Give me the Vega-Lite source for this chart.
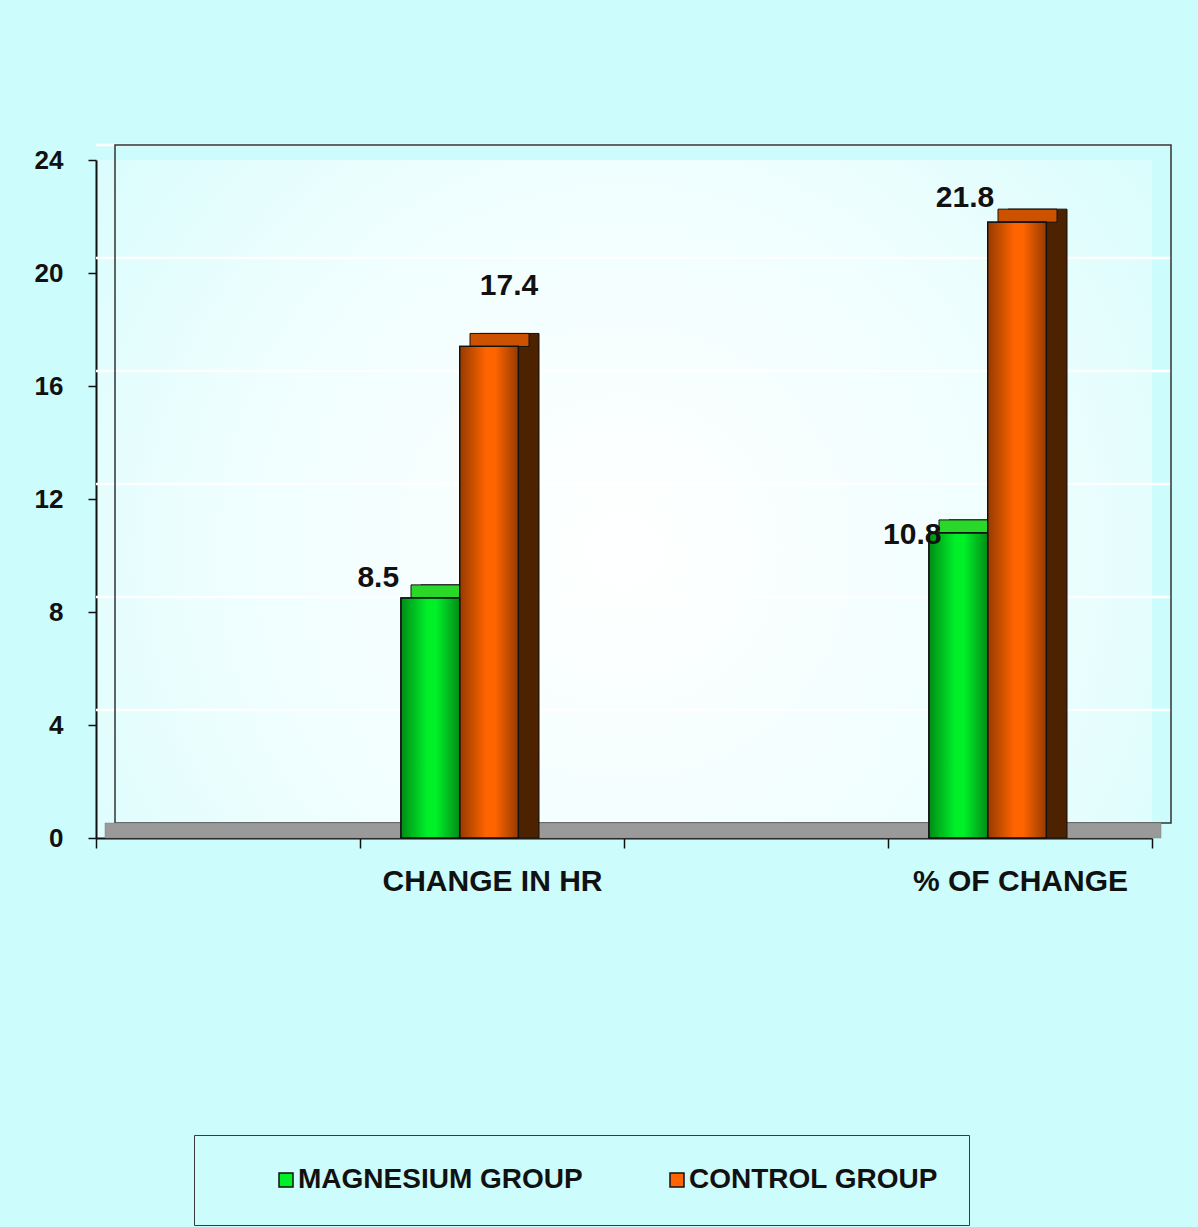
{
  "$schema": "https://vega.github.io/schema/vega-lite/v6.json",
  "width": 1056,
  "height": 678,
  "autosize": {"type": "none"},
  "padding": {"left": 96, "top": 160, "right": 46, "bottom": 389},
  "background": "#ccfcfc",
  "config": {
    "font": "Liberation Sans",
    "view": {
      "stroke": null,
      "fill": {
        "gradient": "radial",
        "x1": 0.5, "y1": 0.55, "r1": 0,
        "x2": 0.5, "y2": 0.55, "r2": 0.75,
        "stops": [
          {"offset": 0, "color": "#ffffff"},
          {"offset": 0.5, "color": "#effefe"},
          {"offset": 1, "color": "#d0fcfc"}
        ]
      }
    }
  },
  "datasets": {
    "bars": [
      {"measure": "CHANGE IN HR", "group": "MAGNESIUM GROUP", "value": 8.5},
      {"measure": "CHANGE IN HR", "group": "CONTROL GROUP", "value": 17.4},
      {"measure": "% OF CHANGE", "group": "MAGNESIUM GROUP", "value": 10.8},
      {"measure": "% OF CHANGE", "group": "CONTROL GROUP", "value": 21.8}
    ],
    "grid": [
      {"level": 4}, {"level": 8}, {"level": 12}, {"level": 16}, {"level": 20}, {"level": 24}
    ],
    "frame": [{}]
  },
  "layer": [
    {
      "description": "white gridlines painted on the back wall",
      "data": {"name": "grid"},
      "mark": {
        "type": "rule", "stroke": "#ffffff", "strokeWidth": 2.5,
        "xOffset": 19, "x2Offset": 19, "yOffset": -15
      },
      "encoding": {
        "y": {"field": "level", "type": "quantitative", "scale": {"domain": [0, 24], "nice": false}}
      }
    },
    {
      "description": "back wall of the 3-D plot box",
      "data": {"name": "frame"},
      "mark": {
        "type": "rect", "fill": "transparent", "stroke": "#333333", "strokeWidth": 1.5,
        "xOffset": 19, "x2Offset": 19, "yOffset": -15, "y2Offset": -15
      },
      "encoding": {
        "x": {"value": 0},
        "x2": {"value": "width"},
        "y": {"datum": 0, "type": "quantitative"},
        "y2": {"datum": 24}
      }
    },
    {
      "description": "grey floor",
      "data": {"name": "frame"},
      "mark": {"type": "rect", "fill": "#9a9a9a", "stroke": "#808080", "strokeWidth": 0.5, "xOffset": 9, "x2Offset": 9},
      "encoding": {
        "x": {"value": 0},
        "x2": {"value": "width"},
        "y": {"datum": 0, "type": "quantitative"},
        "y2": {"datum": 0.53}
      }
    },
    {
      "description": "bar side faces",
      "data": {"name": "bars"},
      "mark": {
        "type": "bar", "stroke": "#111111", "strokeWidth": 1, "width": 59,
        "xOffset": {"expr": "datum.group === 'CONTROL GROUP' ? 17.5 : -41.5"},
        "yOffset": -13, "y2Offset": -13
      },
      "encoding": {
        "x": {"field": "measure", "type": "nominal"},
        "y": {"field": "value", "type": "quantitative", "stack": null},
        "fill": {
          "condition": {"test": "datum.group === 'CONTROL GROUP'", "value": "#4d2200"},
          "value": "#005a10"
        }
      }
    },
    {
      "description": "bar top faces",
      "data": {"name": "bars"},
      "mark": {
        "type": "bar", "stroke": "#111111", "strokeWidth": 1, "width": 59,
        "xOffset": {"expr": "datum.group === 'CONTROL GROUP' ? 7.5 : -51.5"},
        "yOffset": -13
      },
      "encoding": {
        "x": {"field": "measure", "type": "nominal"},
        "y": {"field": "value", "type": "quantitative", "stack": null},
        "y2": {"field": "value"},
        "fill": {
          "condition": {"test": "datum.group === 'CONTROL GROUP'", "value": "#cc5200"},
          "value": "#2ad82a"
        }
      }
    },
    {
      "description": "bar front faces",
      "data": {"name": "bars"},
      "mark": {"type": "bar", "stroke": "#111111", "strokeWidth": 1.2},
      "encoding": {
        "x": {
          "field": "measure",
          "type": "nominal",
          "sort": null,
          "scale": {
            "domain": ["spacer-a", "CHANGE IN HR", "spacer-b", "% OF CHANGE"],
            "paddingInner": 0,
            "paddingOuter": 0
          },
          "axis": {
            "title": null,
            "labelAngle": 0,
            "labelAlign": "center",
            "labelExpr": "(datum.value === 'spacer-a' || datum.value === 'spacer-b') ? '' : datum.label",
            "labelFontSize": 30,
            "labelFontWeight": "bold",
            "labelColor": "#111111",
            "labelPadding": 33,
            "labelLimit": 400,
            "tickBand": "extent",
            "tickSize": 10,
            "tickColor": "#111111",
            "tickWidth": 1.5,
            "domainColor": "#111111",
            "domainWidth": 2,
            "grid": false
          }
        },
        "xOffset": {
          "field": "group",
          "type": "nominal",
          "sort": ["MAGNESIUM GROUP", "CONTROL GROUP"],
          "scale": {
            "domain": ["MAGNESIUM GROUP", "CONTROL GROUP", "depth"],
            "paddingInner": 0,
            "paddingOuter": 0.746,
            "align": 0.466
          }
        },
        "y": {
          "field": "value",
          "type": "quantitative",
          "axis": {
            "title": null,
            "values": [0, 4, 8, 12, 16, 20, 24],
            "labelFontSize": 26,
            "labelFontWeight": "bold",
            "labelColor": "#111111",
            "labelPadding": 25,
            "tickSize": 8,
            "tickColor": "#111111",
            "tickWidth": 1.5,
            "domainColor": "#111111",
            "domainWidth": 2,
            "grid": false
          }
        },
        "color": {
          "field": "group",
          "type": "nominal",
          "sort": ["MAGNESIUM GROUP", "CONTROL GROUP"],
          "scale": {"domain": ["MAGNESIUM GROUP", "CONTROL GROUP"], "range": ["#00f028", "#ff6400"]},
          "legend": {
            "title": null,
            "orient": "none",
            "direction": "horizontal",
            "columns": 2,
            "gridAlign": "all",
            "legendX": 98,
            "legendY": 975,
            "padding": 31,
            "symbolOffset": 47,
            "symbolType": "square",
            "symbolSize": 196,
            "symbolStrokeColor": "#111111",
            "symbolStrokeWidth": 1.5,
            "labelFontSize": 28,
            "labelFontWeight": "bold",
            "labelColor": "#111111",
            "labelOffset": -2,
            "labelLimit": 400,
            "columnPadding": 33,
            "strokeColor": "#3a3a3a",
            "fillColor": "#ccfcfc"
          }
        }
      }
    },
    {
      "description": "shading across the front faces",
      "data": {"name": "bars"},
      "mark": {
        "type": "bar",
        "stroke": "#111111",
        "strokeWidth": 1.2,
        "fill": {
          "gradient": "linear", "x1": 0, "y1": 0, "x2": 1, "y2": 0,
          "stops": [
            {"offset": 0, "color": "rgba(0,0,0,0.42)"},
            {"offset": 0.45, "color": "rgba(0,0,0,0)"},
            {"offset": 0.6, "color": "rgba(0,0,0,0)"},
            {"offset": 1, "color": "rgba(0,0,0,0.42)"}
          ]
        }
      },
      "encoding": {
        "x": {"field": "measure", "type": "nominal"},
        "xOffset": {"field": "group", "type": "nominal", "sort": ["MAGNESIUM GROUP", "CONTROL GROUP"]},
        "y": {"field": "value", "type": "quantitative"}
      }
    },
    {
      "data": {"name": "bars"},
      "transform": [{"filter": "datum.measure === 'CHANGE IN HR' && datum.group === 'MAGNESIUM GROUP'"}],
      "mark": {"type": "text", "fontSize": 30, "fontWeight": "bold", "color": "#111111", "baseline": "middle", "dx": -52, "dy": -20},
      "encoding": {
        "x": {"field": "measure", "type": "nominal"},
        "xOffset": {"field": "group", "type": "nominal", "sort": ["MAGNESIUM GROUP", "CONTROL GROUP"]},
        "y": {"field": "value", "type": "quantitative"},
        "text": {"field": "value", "type": "quantitative", "format": ".1f"}
      }
    },
    {
      "data": {"name": "bars"},
      "transform": [{"filter": "datum.measure === 'CHANGE IN HR' && datum.group === 'CONTROL GROUP'"}],
      "mark": {"type": "text", "fontSize": 30, "fontWeight": "bold", "color": "#111111", "baseline": "middle", "dx": 20, "dy": -60},
      "encoding": {
        "x": {"field": "measure", "type": "nominal"},
        "xOffset": {"field": "group", "type": "nominal", "sort": ["MAGNESIUM GROUP", "CONTROL GROUP"]},
        "y": {"field": "value", "type": "quantitative"},
        "text": {"field": "value", "type": "quantitative", "format": ".1f"}
      }
    },
    {
      "data": {"name": "bars"},
      "transform": [{"filter": "datum.measure === '% OF CHANGE' && datum.group === 'MAGNESIUM GROUP'"}],
      "mark": {"type": "text", "fontSize": 30, "fontWeight": "bold", "color": "#111111", "baseline": "middle", "dx": -46, "dy": 2},
      "encoding": {
        "x": {"field": "measure", "type": "nominal"},
        "xOffset": {"field": "group", "type": "nominal", "sort": ["MAGNESIUM GROUP", "CONTROL GROUP"]},
        "y": {"field": "value", "type": "quantitative"},
        "text": {"field": "value", "type": "quantitative", "format": ".1f"}
      }
    },
    {
      "data": {"name": "bars"},
      "transform": [{"filter": "datum.measure === '% OF CHANGE' && datum.group === 'CONTROL GROUP'"}],
      "mark": {"type": "text", "fontSize": 30, "fontWeight": "bold", "color": "#111111", "baseline": "middle", "dx": -52, "dy": -24},
      "encoding": {
        "x": {"field": "measure", "type": "nominal"},
        "xOffset": {"field": "group", "type": "nominal", "sort": ["MAGNESIUM GROUP", "CONTROL GROUP"]},
        "y": {"field": "value", "type": "quantitative"},
        "text": {"field": "value", "type": "quantitative", "format": ".1f"}
      }
    }
  ]
}
